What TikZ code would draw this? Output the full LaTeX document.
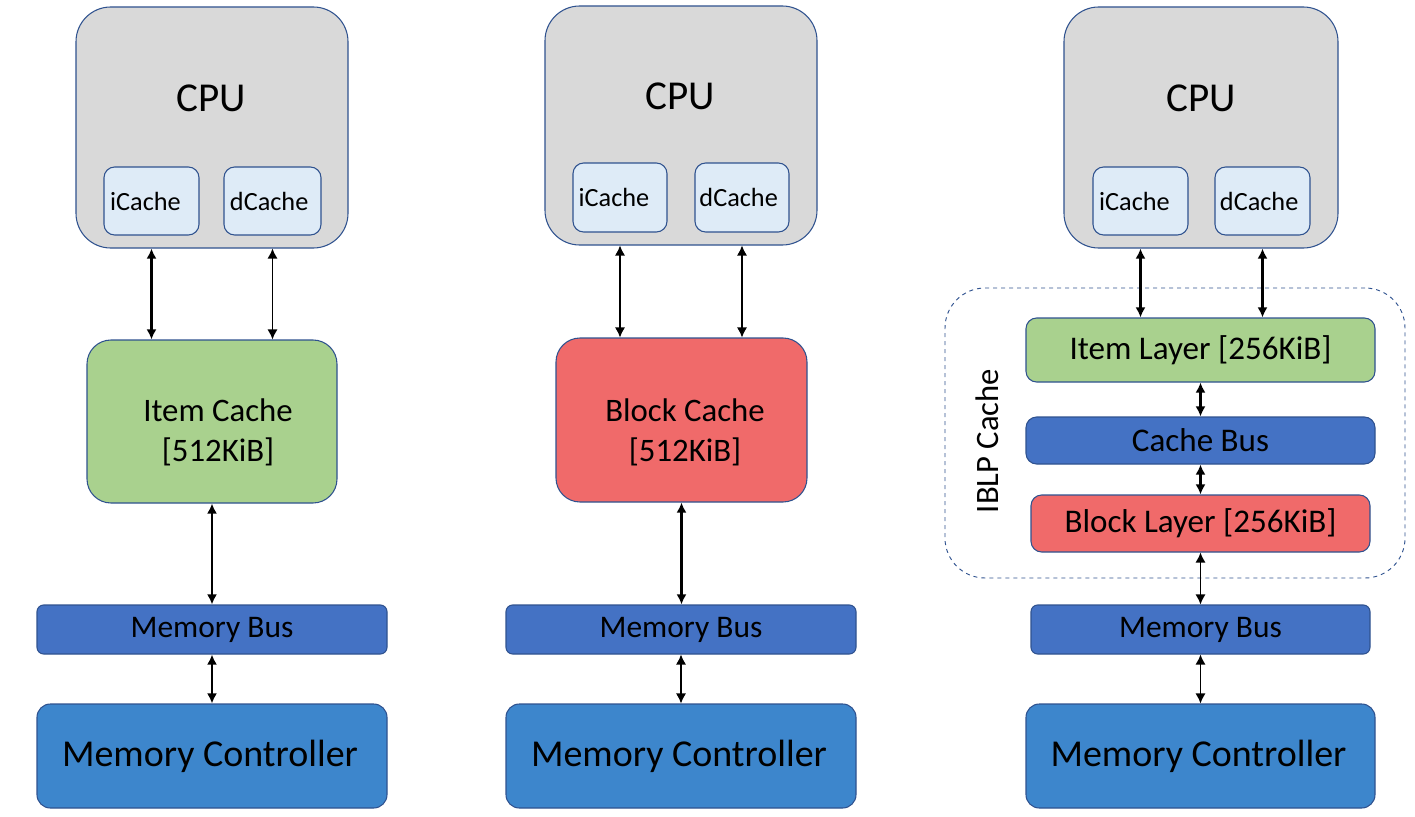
\documentclass[tikz,border=0pt]{standalone}
\usepackage{fontspec}
\setmainfont{Carlito}
\usetikzlibrary{arrows.meta,fit}
\definecolor{edgeblue}{HTML}{2F528F}
\definecolor{cpugray}{HTML}{D9D9D9}
\definecolor{cachefill}{HTML}{DEEBF7}
\definecolor{itemgreen}{HTML}{A9D18E}
\definecolor{blockred}{HTML}{F06A6A}
\definecolor{busblue}{HTML}{4472C4}
\definecolor{mcblue}{HTML}{3D86CC}
\tikzset{
  x=0.75pt, y=-0.75pt,
  base/.style={draw=edgeblue, line width=0.8pt, inner sep=0pt},
  cpubox/.style={base, fill=cpugray, rounded corners=26pt},
  l1font/.style={font=\fontsize{19.7}{23}\selectfont},
  ibox/.style={base, fill=cachefill, rounded corners=8pt, label={[l1font, xshift=-4.5pt]center:#1}},
  dbox/.style={base, fill=cachefill, rounded corners=8pt, label={[l1font, xshift=-2.5pt]center:#1}},
  cachebox/.style={base, rounded corners=18pt},
  layerbox/.style={base, rounded corners=8pt, label={[font=\fontsize{24.8}{28}\selectfont]center:#1}},
  busbox/.style={base, fill=busblue, rounded corners=5pt, label={[font=\fontsize{23.6}{27}\selectfont]center:#1}},
  mcbox/.style={base, fill=mcblue, rounded corners=10pt, label={[font=\fontsize{28.5}{32}\selectfont, xshift=-1.5pt]center:#1}},
  cpulabel/.style={font=\fontsize{30.8}{36}\selectfont},
  cachetext/.style={font=\fontsize{24.6}{30}\selectfont, align=center},
  tips/.style={{Latex[length=7.5pt,width=7.5pt]}-{Latex[length=7.5pt,width=7.5pt]}},
  arr/.style={tips, line width=1.6pt},
  arrthin/.style={tips, line width=0.9pt},
}
\begin{document}
\begin{tikzpicture}
\useasboundingbox (0,0) rectangle (1415,817);
% ---------- column 1 ----------
\node[cpubox, fit={(76,7) (348,248)}] (cpuA) {};
\node[cpulabel] (cpuAt) at (211,98) {CPU};
\node[ibox=iCache, fit={(104,167) (199,235)}] (icA) {};
\node[dbox=dCache, fit={(224,167) (321,235)}] (dcA) {};
\node[cachebox, fill=itemgreen, fit={(87,340) (337,503)}] (itemA) {};
\node[cachetext] (itemAt) at (218,432) {Item Cache\\{}[512KiB]};
\node[busbox=Memory Bus, fit={(37,605) (387,654)}] (mbA) {};
\node[mcbox=Memory Controller, fit={(37,704) (387,808)}] (mcA) {};
\draw[arr] (icA |- cpuA.south) -- (icA |- itemA.north);
\draw[arrthin] (dcA |- cpuA.south) -- (dcA |- itemA.north);
\draw[arr] (itemA.south) -- (itemA.south |- mbA.north);
\draw[arr] (mbA.south) -- (mcA.north);
% ---------- column 2 ----------
\node[cpubox, fit={(545,6) (817,245)}] (cpuB) {};
\node[cpulabel] (cpuBt) at (680,96) {CPU};
\node[ibox=iCache, fit={(573,163) (667,232)}] (icB) {};
\node[dbox=dCache, fit={(695,163) (789,232)}] (dcB) {};
\node[cachebox, fill=blockred, fit={(556,338) (807,502)}] (blockB) {};
\node[cachetext] (blockBt) at (685,432) {Block Cache\\{}[512KiB]};
\node[busbox=Memory Bus, fit={(506,605) (856,654)}] (mbB) {};
\node[mcbox=Memory Controller, fit={(506,704) (856,808)}] (mcB) {};
\draw[arrthin] (icB |- cpuB.south) -- (icB |- blockB.north);
\draw[arrthin] (dcB |- cpuB.south) -- (dcB |- blockB.north);
\draw[arr] (blockB.south) -- (blockB.south |- mbB.north);
\draw[arrthin] (mbB.south) -- (mcB.north);
% ---------- column 3 ----------
\node[cpubox, fit={(1064,7) (1338,248)}] (cpuC) {};
\node[cpulabel] (cpuCt) at (1201,98) {CPU};
\node[ibox=iCache, fit={(1093,167) (1188,235)}] (icC) {};
\node[dbox=dCache, fit={(1215,167) (1310,235)}] (dcC) {};
\node[draw=edgeblue, line width=0.7pt, dashed, rounded corners=30pt, inner sep=0pt, fit={(945,288) (1405,578)}] (iblp) {};
\node[rotate=90, font=\fontsize{24.5}{28}\selectfont] (iblpt) at (987,441) {IBLP Cache};
\node[layerbox=Item Layer {[256KiB]}, fill=itemgreen, fit={(1026,318) (1375,382)}] (itemC) {};
\node[layerbox=Cache Bus, fill=busblue, fit={(1026,417) (1375,464)}] (cbusC) {};
\node[layerbox=Block Layer {[256KiB]}, fill=blockred, fit={(1031,495) (1370,552)}] (blockC) {};
\node[busbox=Memory Bus, fit={(1031,605) (1370,654)}] (mbC) {};
\node[mcbox=Memory Controller, fit={(1026,704) (1375,808)}] (mcC) {};
\draw[arr] (icC |- cpuC.south) -- (icC |- itemC.north);
\draw[arr] (dcC |- cpuC.south) -- (dcC |- itemC.north);
\draw[arr] (itemC.south) -- (cbusC.north);
\draw[arr] (cbusC.south) -- (blockC.north);
\draw[arrthin] (blockC.south) -- (mbC.north);
\draw[arrthin] (mbC.south) -- (mcC.north);
\end{tikzpicture}
\end{document}
